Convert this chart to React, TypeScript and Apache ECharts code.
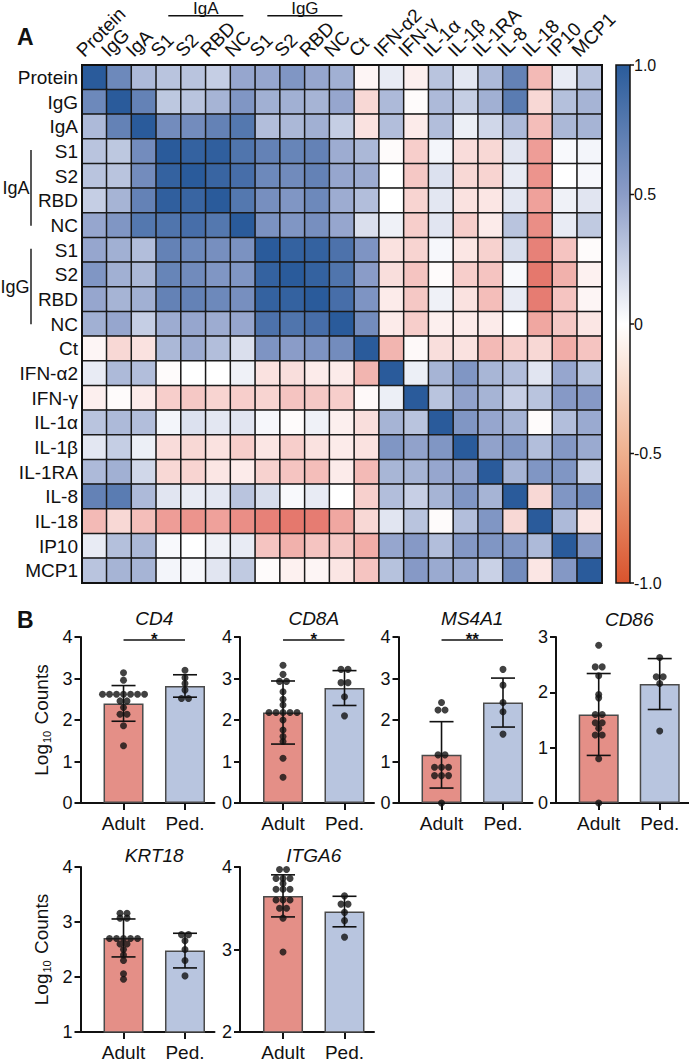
import React, { useEffect, useRef } from "react";
import * as echarts from "echarts";

const FONT = "'Liberation Sans', Arial, Helvetica, sans-serif";

// ---------- Panel A data ----------
const heatLabels = ["Protein", "IgG", "IgA", "S1", "S2", "RBD", "NC", "S1", "S2", "RBD", "NC", "Ct", "IFN-α2", "IFN-γ", "IL-1α", "IL-1β", "IL-1RA", "IL-8", "IL-18", "IP10", "MCP1"];

const corrRows: number[][] = [
  [1, 0.65, 0.35, 0.30, 0.30, 0.25, 0.45, 0.45, 0.55, 0.45, 0.40, -0.05, 0.10, -0.08, 0.30, 0.12, 0.35, 0.70, -0.35, 0.10, 0.30],
  [0.65, 1, 0.70, 0.28, 0.30, 0.38, 0.55, 0.40, 0.40, 0.38, 0.45, -0.20, 0.35, -0.02, 0.35, 0.25, 0.40, 0.75, -0.20, 0.32, 0.38],
  [0.35, 0.70, 1, 0.62, 0.62, 0.70, 0.78, 0.33, 0.36, 0.40, 0.25, -0.15, 0.33, -0.10, 0.33, 0.08, 0.20, 0.35, -0.33, 0.36, 0.38],
  [0.30, 0.28, 0.62, 1, 0.95, 0.97, 0.80, 0.70, 0.68, 0.70, 0.42, 0.36, -0.02, -0.25, 0.05, -0.18, -0.20, 0.13, -0.50, 0.03, 0.05],
  [0.30, 0.30, 0.62, 0.95, 1, 0.92, 0.85, 0.65, 0.63, 0.70, 0.45, 0.42, 0, -0.28, 0.15, -0.20, -0.22, 0.10, -0.55, 0, 0.04],
  [0.25, 0.38, 0.70, 0.97, 0.92, 1, 0.78, 0.60, 0.55, 0.65, 0.42, 0.33, 0, -0.22, 0.12, -0.15, -0.13, 0.12, -0.48, 0.07, 0.13],
  [0.45, 0.55, 0.78, 0.80, 0.85, 0.78, 1, 0.58, 0.55, 0.60, 0.45, 0.16, 0.07, -0.25, 0.13, -0.25, -0.10, 0.30, -0.58, 0.10, 0.27],
  [0.45, 0.40, 0.33, 0.70, 0.65, 0.60, 0.58, 1, 0.95, 0.95, 0.82, 0.56, -0.15, -0.22, 0.04, -0.13, -0.23, 0.17, -0.65, -0.30, -0.02],
  [0.55, 0.40, 0.36, 0.68, 0.63, 0.55, 0.55, 0.95, 1, 0.95, 0.80, 0.50, -0.17, -0.30, -0.02, -0.25, -0.30, 0.03, -0.70, -0.40, -0.07],
  [0.45, 0.38, 0.40, 0.70, 0.70, 0.65, 0.60, 0.95, 0.95, 1, 0.85, 0.56, -0.10, -0.28, 0.07, -0.15, -0.33, 0.10, -0.68, -0.30, -0.05],
  [0.40, 0.45, 0.25, 0.42, 0.45, 0.42, 0.45, 0.82, 0.80, 0.85, 1, 0.62, -0.10, -0.25, -0.08, -0.10, -0.10, 0, -0.45, -0.28, -0.13],
  [-0.05, -0.20, -0.15, 0.36, 0.42, 0.33, 0.16, 0.56, 0.50, 0.56, 0.62, 1, -0.38, -0.03, -0.17, -0.15, -0.35, -0.24, -0.20, -0.42, -0.30],
  [0.10, 0.35, 0.33, -0.02, 0, 0, 0.07, -0.15, -0.17, -0.10, -0.10, -0.38, 1, 0.08, 0.38, 0.55, 0.37, 0.33, 0.13, 0.45, 0.31],
  [-0.08, -0.02, -0.10, -0.25, -0.28, -0.22, -0.25, -0.22, -0.30, -0.28, -0.25, -0.03, 0.08, 1, 0.30, 0.47, 0.38, 0.24, 0.30, 0.52, 0.52],
  [0.30, 0.35, 0.33, 0.05, 0.15, 0.12, 0.13, 0.04, -0.02, 0.07, -0.08, -0.17, 0.38, 0.30, 1, 0.55, 0.45, 0.38, -0.02, 0.33, 0.43],
  [0.12, 0.25, 0.08, -0.18, -0.20, -0.15, -0.25, -0.13, -0.25, -0.15, -0.10, -0.15, 0.55, 0.47, 0.55, 1, 0.47, 0.55, 0.33, 0.53, 0.43],
  [0.35, 0.40, 0.20, -0.20, -0.22, -0.13, -0.10, -0.23, -0.30, -0.33, -0.10, -0.35, 0.37, 0.38, 0.45, 0.47, 1, 0.38, 0.55, 0.55, 0.23],
  [0.70, 0.75, 0.35, 0.13, 0.10, 0.12, 0.30, 0.17, 0.03, 0.10, 0, -0.24, 0.33, 0.24, 0.38, 0.55, 0.38, 1, -0.20, 0.55, 0.62],
  [-0.35, -0.20, -0.33, -0.50, -0.55, -0.48, -0.58, -0.65, -0.70, -0.68, -0.45, -0.20, 0.13, 0.30, -0.02, 0.33, 0.55, -0.20, 1, 0.35, -0.13],
  [0.10, 0.32, 0.36, 0.03, 0, 0.07, 0.10, -0.30, -0.40, -0.30, -0.28, -0.42, 0.45, 0.52, 0.33, 0.53, 0.55, 0.55, 0.35, 1, 0.53],
  [0.30, 0.38, 0.38, 0.05, 0.04, 0.13, 0.27, -0.02, -0.07, -0.05, -0.13, -0.30, 0.31, 0.52, 0.43, 0.43, 0.23, 0.62, -0.13, 0.53, 1],
];

const colorbarLabels = ["1.0", "0.5", "0", "-0.5", "-1.0"];
const groupSpans = [
  { name: "IgA", from: 3, to: 6 },
  { name: "IgG", from: 7, to: 10 },
];

// ---------- Panel B data ----------
const groupNames = ["Adult", "Ped."];
const genes = ["CD4", "CD8A", "MS4A1", "CD86", "KRT18", "ITGA6"];
const geneAxisMin = [0, 0, 0, 0, 1, 2];
const geneAxisMax = [4, 4, 4, 3, 4, 4];
const geneSig = ["*", "*", "**", "", "", ""];
const adultMean = [2.40, 2.18, 1.16, 1.60, 2.71, 3.65];
const adultSD = [0.43, 0.76, 0.80, 0.74, 0.345, 0.255];
const pedMean = [2.82, 2.77, 2.42, 2.15, 2.48, 3.46];
const pedSD = [0.27, 0.42, 0.59, 0.46, 0.315, 0.185];

const adultDots: number[][] = [
  [3.14, 2.96, 2.62, 2.62, 2.62, 2.62, 2.62, 2.62, 2.62, 2.46, 2.46, 2.3, 2.14, 2.14, 1.86, 1.38],
  [3.32, 3.1, 2.93, 2.93, 2.68, 2.5, 2.36, 2.18, 2.18, 2.18, 2.18, 2.18, 2.0, 1.76, 1.6, 1.48, 1.08, 0.62],
  [2.42, 2.24, 2.24, 1.16, 1.16, 0.86, 0.86, 0.86, 0.66, 0.66, 0.66, 0.0],
  [2.85, 2.46, 2.46, 2.3, 1.96, 1.9, 1.6, 1.6, 1.45, 1.45, 1.35, 1.23, 1.23, 0.8, 0.0],
  [3.16, 3.16, 3.07, 3.07, 2.7, 2.7, 2.7, 2.7, 2.7, 2.6, 2.6, 2.5, 2.4, 2.3, 2.06, 1.96],
  [3.97, 3.97, 3.86, 3.86, 3.86, 3.8, 3.73, 3.73, 3.73, 3.6, 3.6, 3.6, 3.5, 3.5, 3.38, 2.97],
];
const pedDots: number[][] = [
  [3.2, 3.02, 2.88, 2.72, 2.52, 2.52],
  [3.22, 3.22, 2.9, 2.9, 2.56, 2.1],
  [3.22, 2.84, 2.42, 2.2, 1.66],
  [2.63, 2.28, 2.28, 2.16, 1.3],
  [2.77, 2.77, 2.66, 2.5, 2.3, 2.02],
  [3.65, 3.55, 3.55, 3.45, 3.35, 3.15],
];

// ---------- layout ----------
const HM = { left: 82, top: 65, width: 520, height: 518 };
const CB = { x: 616, w: 14 };
const BAR_GRIDS = [
  { left: 80.5, top: 637, height: 166, titleOff: 19 },
  { left: 240, top: 637, height: 166, titleOff: 19 },
  { left: 398.5, top: 637, height: 166, titleOff: 19 },
  { left: 556, top: 637, height: 166, titleOff: 18 },
  { left: 80.5, top: 867, height: 167, titleOff: 12 },
  { left: 240, top: 867, height: 167, titleOff: 12 },
];
const BAR_W = 134;
const X_MIN = 0.3;
const X_MAX = 2.48;
const ADULT_COLOR = "#E48F87";
const PED_COLOR = "#B8C5DF";
const INK = "#111111";

function swarm(values: number[], center: number, step: number): number[][] {
  const sorted = [...values].sort((a, b) => b - a);
  const rows: number[][] = [];
  for (const v of sorted) {
    const r = rows[rows.length - 1];
    if (r && Math.abs(r[0] - v) < 0.035) r.push(v);
    else rows.push([v]);
  }
  const pts: number[][] = [];
  rows.forEach((r) => {
    const n = r.length;
    r.forEach((v, k) => pts.push([center + (k - (n - 1) / 2) * step, v]));
  });
  return pts;
}

function buildOption() {
  const grids: any[] = [{ ...HM }];
  const xAxes: any[] = [
    {
      type: "category",
      gridIndex: 0,
      position: "top",
      data: heatLabels,
      axisLine: { show: false },
      axisTick: { show: false },
      splitLine: { show: false },
      axisLabel: { show: false },
    },
  ];
  const yAxes: any[] = [
    {
      type: "category",
      gridIndex: 0,
      inverse: true,
      data: heatLabels,
      axisLine: { show: false },
      axisTick: { show: false },
      splitLine: { show: false },
      axisLabel: { fontSize: 19, color: INK, margin: 4, interval: 0, fontFamily: FONT },
    },
  ];
  const heatData: number[][] = [];
  corrRows.forEach((row, i) => row.forEach((v, j) => heatData.push([j, i, v])));
  const series: any[] = [
    {
      type: "heatmap",
      xAxisIndex: 0,
      yAxisIndex: 0,
      data: heatData,
      itemStyle: { borderColor: "#1b1b1b", borderWidth: 1.5 },
      emphasis: { disabled: true },
    },
  ];

  const step = 7 / (BAR_W / (X_MAX - X_MIN));

  genes.forEach((gene, k) => {
    const g = BAR_GRIDS[k];
    const ai = k + 1;
    grids.push({ left: g.left, top: g.top, width: BAR_W, height: g.height });
    xAxes.push({
      type: "value",
      gridIndex: ai,
      min: X_MIN,
      max: X_MAX,
      splitLine: { show: false },
      axisLine: { show: true, onZero: false, lineStyle: { color: INK, width: 2 } },
      axisTick: { show: true, customValues: [1, 2], length: 7, lineStyle: { color: INK, width: 2 } },
      axisLabel: {
        customValues: [1, 2],
        formatter: (v: number) => groupNames[Math.round(v) - 1] || "",
        fontSize: 19,
        color: INK,
        margin: 11,
        fontFamily: FONT,
      },
    });
    yAxes.push({
      type: "value",
      gridIndex: ai,
      min: geneAxisMin[k],
      max: geneAxisMax[k],
      interval: 1,
      splitLine: { show: false },
      axisLine: { show: true, onZero: false, lineStyle: { color: INK, width: 2 } },
      axisTick: { show: true, length: 6, lineStyle: { color: INK, width: 2 } },
      axisLabel: { fontSize: 18, color: INK, margin: 8, fontFamily: FONT },
      name: k === 0 || k === 4 ? "{b|Log}{s|10}{b| Counts}" : "",
      nameLocation: "middle",
      nameRotate: 90,
      nameGap: 28,
      nameTextStyle: {
        fontFamily: FONT,
        color: INK,
        rich: {
          b: { fontSize: 19, fontFamily: FONT, color: INK, lineHeight: 22, verticalAlign: "middle" },
          s: { fontSize: 11, fontFamily: FONT, color: INK, lineHeight: 22, verticalAlign: "bottom", padding: [8, 1, 0, 1] },
        },
      },
    });
    series.push({
      type: "bar",
      xAxisIndex: ai,
      yAxisIndex: ai,
      barWidth: 40,
      z: 2,
      itemStyle: { borderColor: "#4a4a4a", borderWidth: 1.5 },
      data: [
        { value: [1, adultMean[k]], itemStyle: { color: ADULT_COLOR } },
        { value: [2, pedMean[k]], itemStyle: { color: PED_COLOR } },
      ],
    });
    series.push({
      type: "custom",
      xAxisIndex: ai,
      yAxisIndex: ai,
      z: 3,
      clip: false,
      data: [
        [1, adultMean[k] - adultSD[k], adultMean[k] + adultSD[k]],
        [2, pedMean[k] - pedSD[k], pedMean[k] + pedSD[k]],
      ],
      renderItem: (params: any, api: any) => {
        const x = api.value(0);
        const hi = api.coord([x, api.value(2)]);
        const lo = api.coord([x, api.value(1)]);
        const cw = 12;
        const st = { stroke: INK, lineWidth: 1.6 };
        return {
          type: "group",
          children: [
            { type: "line", shape: { x1: hi[0], y1: hi[1], x2: lo[0], y2: lo[1] }, style: st },
            { type: "line", shape: { x1: hi[0] - cw, y1: hi[1], x2: hi[0] + cw, y2: hi[1] }, style: st },
            { type: "line", shape: { x1: lo[0] - cw, y1: lo[1], x2: lo[0] + cw, y2: lo[1] }, style: st },
          ],
        };
      },
    });
    [adultDots[k], pedDots[k]].forEach((dots, gi) => {
      series.push({
        type: "scatter",
        xAxisIndex: ai,
        yAxisIndex: ai,
        z: 4,
        clip: false,
        symbolSize: 7,
        itemStyle: { color: INK },
        data: swarm(dots, gi + 1, step),
      });
    });
    const yMax = geneAxisMax[k];
    const sig = geneSig[k];
    const titleOff = g.titleOff;
    series.push({
      type: "custom",
      xAxisIndex: ai,
      yAxisIndex: ai,
      z: 5,
      clip: false,
      data: [[1.5, yMax]],
      renderItem: (params: any, api: any) => {
        const mid = api.coord([1.5, yMax]);
        const p1 = api.coord([1, yMax]);
        const p2 = api.coord([2, yMax]);
        const children: any[] = [
          {
            type: "text",
            x: mid[0],
            y: mid[1] - titleOff,
            style: { text: gene, fontSize: 19, fontStyle: "italic", fontFamily: FONT, fill: INK, align: "center", verticalAlign: "middle" },
          },
        ];
        if (sig) {
          const ly = p1[1] + 3;
          children.push({ type: "line", shape: { x1: p1[0], y1: ly, x2: p2[0], y2: ly }, style: { stroke: INK, lineWidth: 1.4 } });
          children.push({
            type: "text",
            x: mid[0],
            y: ly - 1,
            style: { text: sig, fontSize: 17, fontWeight: "bold", fontFamily: FONT, fill: INK, align: "center", verticalAlign: "middle" },
          });
        }
        return { type: "group", children };
      },
    });
  });

  // ---------- graphics: labels, brackets, colour bar ----------
  const colW = HM.width / heatLabels.length;
  const rowH = HM.height / heatLabels.length;
  const graphic: any[] = [];
  const txt = (text: string, x: number, y: number, o: any = {}, extra: any = {}) => ({
    type: "text",
    x,
    y,
    z: 100,
    ...extra,
    style: { text, fontSize: 19, fontFamily: FONT, fill: INK, align: "left", verticalAlign: "middle", ...o },
  });
  const ln = (x1: number, y1: number, x2: number, y2: number, w = 1.4) => ({
    type: "line",
    z: 100,
    shape: { x1, y1, x2, y2 },
    style: { stroke: INK, lineWidth: w },
  });
  // rotated column labels along the top of the matrix
  heatLabels.forEach((lab, i) => {
    const cx = HM.left + (i + 0.5) * colW;
    graphic.push(txt(lab, cx - 8, HM.top - 5, { verticalAlign: "bottom" }, { rotation: Math.PI / 4 }));
  });
  graphic.push(txt("A", 17, 37, { fontSize: 23, fontWeight: "bold" }));
  graphic.push(txt("B", 17, 620, { fontSize: 23, fontWeight: "bold" }));
  groupSpans.forEach((gs) => {
    const x0 = HM.left + gs.from * colW;
    const x1 = HM.left + (gs.to + 1) * colW;
    graphic.push(ln(x0 + 12, 15.8, x1 - 12, 15.8));
    graphic.push(txt(gs.name, (x0 + x1) / 2, 8.5, { align: "center", verticalAlign: "middle", fontSize: 17 }));
    const y0 = HM.top + gs.from * rowH;
    const y1 = HM.top + (gs.to + 1) * rowH;
    graphic.push(ln(31, y0 + 11, 31, y1 - 12));
    graphic.push(txt(gs.name, 29.5, (y0 + y1) / 2, { align: "right", fontSize: 18 }));
  });
  graphic.push({
    type: "rect",
    z: 90,
    shape: { x: HM.left, y: HM.top, width: HM.width, height: HM.height },
    style: { fill: "none", stroke: INK, lineWidth: 2 },
  });
  graphic.push({
    type: "rect",
    z: 90,
    shape: { x: CB.x, y: HM.top, width: CB.w, height: HM.height },
    style: {
      stroke: INK,
      lineWidth: 1.5,
      fill: {
        type: "linear",
        x: 0,
        y: 0,
        x2: 0,
        y2: 1,
        colorStops: [
          { offset: 0, color: "#2A5C9B" },
          { offset: 0.25, color: "#8B9CC7" },
          { offset: 0.5, color: "#FFFFFF" },
          { offset: 0.75, color: "#EFB08E" },
          { offset: 1, color: "#D9532D" },
        ],
      },
    },
  });
  colorbarLabels.forEach((lab, i) => {
    const y = HM.top + (i * HM.height) / (colorbarLabels.length - 1);
    graphic.push(ln(CB.x + CB.w, y, CB.x + CB.w + 4, y, 1.5));
    graphic.push(txt(lab, CB.x + CB.w + 4, y, { fontSize: 16 }));
  });

  return {
    animation: false,
    backgroundColor: "#ffffff",
    textStyle: { fontFamily: FONT },
    grid: grids,
    xAxis: xAxes,
    yAxis: yAxes,
    visualMap: {
      type: "continuous",
      show: false,
      min: -1,
      max: 1,
      seriesIndex: 0,
      dimension: 2,
      inRange: { color: ["#D8412F", "#EE9D97", "#FFFFFF", "#8A9CC8", "#2A5B9B"] },
    },
    series,
    graphic,
  };
}

export default function App() {
  const ref = useRef<HTMLDivElement>(null);
  useEffect(() => {
    if (!ref.current) return;
    const chart = echarts.init(ref.current, undefined, { renderer: "svg" });
    chart.setOption(buildOption() as any);
    return () => chart.dispose();
  }, []);
  return (
    <div
      ref={ref}
      style={{ position: "fixed", left: 0, top: 0, width: 689, height: 1062, background: "#fff" }}
    />
  );
}
